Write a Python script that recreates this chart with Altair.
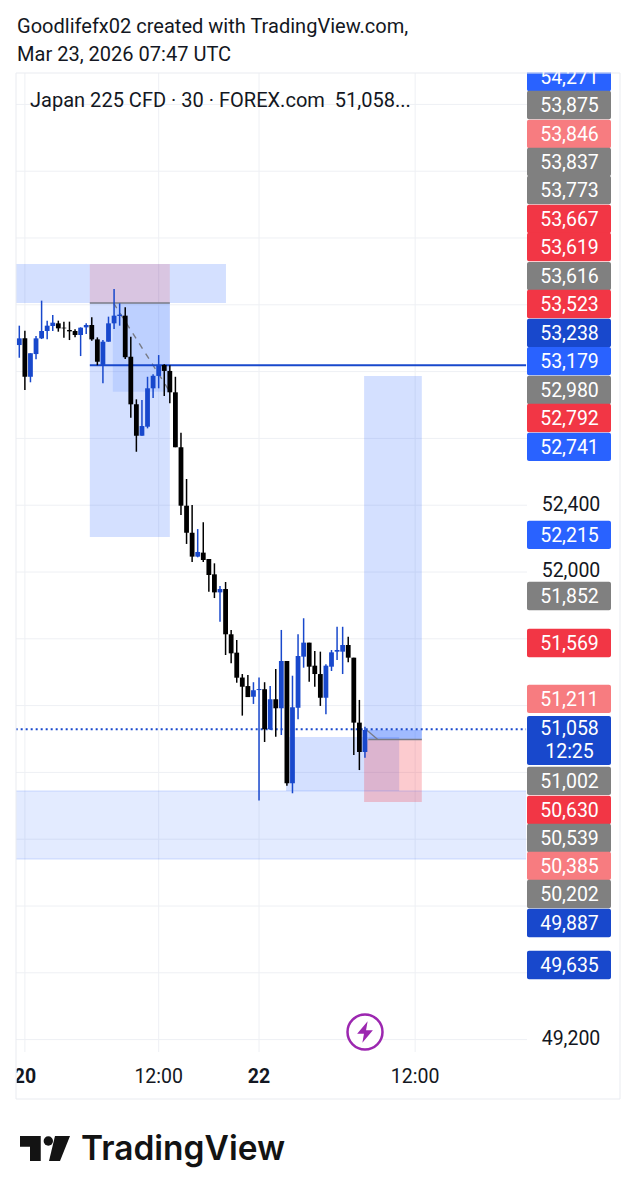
import altair as alt
import pandas as pd

# --- candles (30 min bars) ---
opens = [53359,53399,53169,53305,53399,53443,53473,53489,53463,53449,53443,53419,53465,53479,53393,53240,53379,53489,53533,53535,53289,53004,52816,52870,53100,53174,53240,53204,53076,52747,52397,52235,52092,52116,52078,51986,51878,51898,51627,51517,51368,51317,51253,51293,51298,51058,51238,51184,51467,50735,51187,51493,51577,51439,51389,51247,51433,51523,51523,51563,51487,51098,50922]
highs = [53475,53445,53310,53413,53625,53505,53539,53505,53499,53499,53453,53465,53489,53525,53405,53389,53529,53695,53609,53585,53409,53034,53030,53169,53184,53299,53244,53238,53169,52834,52557,52401,52257,52298,52078,52052,51916,51940,51653,51593,51389,51383,51340,51369,51340,51317,51419,51653,51467,51379,51627,51723,51577,51527,51523,51447,51533,51672,51672,51613,51487,51234,51074]
lows = [53283,53090,53136,53274,53395,53393,53443,53439,53403,53389,53405,53293,53425,53385,53238,53130,53379,53455,53475,53275,52924,52720,52816,52860,53042,53100,53054,53010,52747,52341,52168,52060,52088,52060,51882,51844,51702,51503,51453,51337,51140,51253,51210,50631,50982,51054,51014,51024,50720,50675,51118,51427,51343,51313,51198,51148,51407,51473,51389,51459,50904,50814,50888]
closes = [53399,53169,53310,53399,53443,53475,53493,53459,53459,53441,53419,53463,53479,53393,53259,53379,53489,53535,53541,53286,53004,52816,52874,53100,53175,53240,53204,53076,52747,52397,52235,52092,52120,52072,51982,51878,51898,51627,51513,51367,51313,51251,51292,51299,51058,51238,51184,51467,50735,51190,51497,51577,51433,51389,51247,51439,51519,51533,51563,51487,51098,50922,51054]

# --- price tags on the right-hand scale ---
tag_labels = ["54,271","53,875","53,846","53,837","53,773","53,667","53,619","53,616","53,523","53,238","53,179","52,980","52,792","52,741","52,215","51,852","51,569","51,211","51,002","50,630","50,539","50,385","50,202","49,887","49,635"]
tag_levels = [54964,54796,54623,54455,54287,54114,53946,53772,53605,53431,53263,53090,52922,52749,52222,51856,51575,51240,50749,50575,50407,50240,50072,49898,49647]
tag_kinds = ["bright","grey","salmon","grey","grey","red","red","grey","red","dark","bright","grey","red","bright","bright","grey","red","salmon","grey","red","grey","salmon","grey","dark","dark"]
plain_labels = ["52,400","52,000","49,200"]
plain_levels = [52407,52012,49210]
grid_prices = [54800,54400,54000,53600,53200,52800,52400,52000,51600,51200,50800,50400,50000,49600,49200]
grid_bars = [1,25,43,71]
date_bars = [1,43]
date_labels = ["20","22"]
hour_bars = [25,71]
hour_labels = ["12:00","12:00"]

# --- drawn zones: bar range, price range ---
zone_from = [-0.65,-0.65,12.65,16.78,61.85,62.6,47.85,61.85,12.65]
zone_to = [90.9,37.07,27.0,27.0,72.2,72.2,68.14,72.2,27.0]
zone_top = [50689,53844,53611,53611,53174,51054,51012,50997,53844]
zone_bottom = [50281,53611,52210,53080,50997,50997,50689,50623,53611]
zone_kind = ["pale","blue","blue","pale","blue","deep","blue","pink","rose"]

PX = 5.988        # price units per pixel
Y_TOP = 52000 + 564 * PX
Y_BOTTOM = 52000 - 620 * PX
X_LEFT = (8 - 19.3) / 5.575
X_RIGHT = (628 - 19.3) / 5.575
BLUE = "#1848cc"
GREY = "#787b86"

xs = alt.Scale(domain=[X_LEFT, X_RIGHT], nice=False, zero=False, padding=0)
ys = alt.Scale(domain=[Y_BOTTOM, Y_TOP], nice=False, zero=False)
def X(f): return alt.X(f, type="quantitative", scale=xs, axis=None)
def Y(f): return alt.Y(f, type="quantitative", scale=ys, axis=None)

candles = pd.DataFrame({"i": range(len(opens)), "o": opens, "h": highs, "l": lows, "c": closes})
candles["dir"] = ["up" if c >= o else "down" for o, c in zip(opens, closes)]
dir_color = alt.Color("dir:N", scale=alt.Scale(domain=["up", "down"], range=[BLUE, "#000000"]), legend=None)

wicks = alt.Chart(candles).mark_rule(strokeWidth=1.5).encode(x=X("i"), y=Y("l"), y2="h:Q", color=dir_color)
bodies = alt.Chart(candles).mark_bar(size=4.8).encode(x=X("i"), y=Y("o"), y2="c:Q", color=dir_color)

grid_h = alt.Chart(pd.DataFrame({"p": grid_prices})).mark_rule(color="#eef0f4", strokeWidth=1).encode(
    y=Y("p"), x=alt.value(8), x2=alt.value(519))
grid_v = alt.Chart(pd.DataFrame({"i": grid_bars})).mark_rule(color="#eef0f4", strokeWidth=1).encode(
    x=X("i"), y=alt.value(65), y2=alt.value(1044))

zones_df = pd.DataFrame({"a": zone_from, "b": zone_to, "t": zone_top, "u": zone_bottom, "k": zone_kind, "ord": range(len(zone_kind))})
zones = alt.Chart(zones_df).mark_rect().encode(
    x=X("a"), x2="b:Q", y=Y("t"), y2="u:Q",
    color=alt.Color("k:N", legend=None, scale=alt.Scale(
        domain=["pale", "blue", "deep", "pink", "rose"],
        range=["rgba(41,98,255,0.13)", "rgba(41,98,255,0.2)", "rgba(41,98,255,0.3)", "rgba(242,54,69,0.26)", "rgba(242,54,69,0.16)"])),
    order="ord:Q")

def seg(a, b, p, q, **kw):
    d = pd.DataFrame({"a": [a], "b": [b], "p": [p], "q": [q]})
    return alt.Chart(d).mark_rule(**kw).encode(x=X("a"), x2="b:Q", y=Y("p"), y2="q:Q")

band_top = seg(-0.65, 90.9, 50689, 50689, color="rgba(41,98,255,0.2)", strokeWidth=1)
band_bot = seg(-0.65, 90.9, 50281, 50281, color="rgba(41,98,255,0.2)", strokeWidth=1)
blue_line = seg(12.65, 90.9, 53238, 53238, color=BLUE, strokeWidth=1.9)
last_line = seg(-0.65, 90.9, 51058, 51058, color=BLUE, strokeWidth=2, strokeDash=[2, 3])
grey_a = seg(12.65, 27.0, 53611, 53611, color=GREY, strokeWidth=1.5)
grey_b = seg(62.6, 72.2, 50997, 50997, color=GREY, strokeWidth=1.5)
dash_a = seg(16.9, 27.0, 53611, 53080, color=GREY, strokeWidth=1.4, strokeDash=[6, 6])
dash_b = seg(62.3, 64.3, 51054, 50997, color=GREY, strokeWidth=1.3)

TH = 85
tags_df = pd.DataFrame({"lab": tag_labels, "lv": tag_levels, "k": tag_kinds})
tags_df["t"] = tags_df["lv"] + TH
tags_df["u"] = tags_df["lv"] - TH
tag_color = alt.Color("k:N", legend=None, scale=alt.Scale(
    domain=["bright", "grey", "salmon", "red", "dark"],
    range=["#2962ff", "#808080", "#f77c80", "#f23645", BLUE]))
tag_rects = alt.Chart(tags_df).mark_rect(cornerRadius=2).encode(
    x=alt.value(519), x2=alt.value(603), y=Y("t"), y2="u:Q", color=tag_color)
tag_text = alt.Chart(tags_df).mark_text(font="Roboto", fontSize=19.5, dy=1, color="white", align="center", baseline="middle").encode(
    x=alt.value(561.5), y=Y("lv"), text="lab:N")
cur_rect = alt.Chart(pd.DataFrame({"t": [51138], "u": [50844]})).mark_rect(cornerRadius=2, color=BLUE).encode(
    x=alt.value(519), x2=alt.value(603), y=Y("t"), y2="u:Q")
cur_text = alt.Chart(pd.DataFrame({"lv": [51066, 50928], "lab": ["51,058", "12:25"]})).mark_text(
    font="Roboto", fontSize=19.5, dy=1, color="white", align="center", baseline="middle").encode(
    x=alt.value(561.5), y=Y("lv"), text="lab:N")
plain_text = alt.Chart(pd.DataFrame({"lv": plain_levels, "lab": plain_labels})).mark_text(
    font="Roboto", fontSize=19.5, dy=1, color="#131722", align="center", baseline="middle").encode(
    x=alt.value(563), y=Y("lv"), text="lab:N")

date_text = alt.Chart(pd.DataFrame({"i": date_bars, "lab": date_labels})).mark_text(
    font="Roboto", fontSize=19.5, fontWeight="bold", color="#131722", align="center", baseline="middle").encode(
    x=X("i"), y=alt.value(1069), text="lab:N")
hour_text = alt.Chart(pd.DataFrame({"i": hour_bars, "lab": hour_labels})).mark_text(
    font="Roboto", fontSize=19.5, color="#131722", align="center", baseline="middle").encode(
    x=X("i"), y=alt.value(1069), text="lab:N")

def cover(x0, x1, y0, y1):
    return alt.Chart(pd.DataFrame({"a": [0]})).mark_rect(color="white").encode(
        x=alt.value(x0), x2=alt.value(x1), y=alt.value(y0), y2=alt.value(y1))

def frame(x0, x1, y0, y1):
    return alt.Chart(pd.DataFrame({"a": [0]})).mark_rule(color="#e9ebf0", strokeWidth=1).encode(
        x=alt.value(x0), x2=alt.value(x1), y=alt.value(y0), y2=alt.value(y1))

def label(t, px, py, **kw):
    return alt.Chart(pd.DataFrame({"t": [t]})).mark_text(baseline="middle", **kw).encode(
        x=alt.value(px - 8), y=alt.value(py - 8), text="t:N")

def glyph(px, py, **kw):
    return alt.Chart(pd.DataFrame({"a": [0]})).mark_point(**kw).encode(x=alt.value(px - 8), y=alt.value(py - 8))

LOGO_T = "M-1 -.54 L-.17 -.54 L-.17 .46 L-.6 .46 L-.6 -.11 L-1 -.11 Z"
LOGO_S = "M.4 -.54 L1 -.54 L.6 .46 L.16 .46 Z"
BOLT = "M.15 -.62 L-.45 .1 L-.06 .1 L-.15 .62 L.45 -.1 L.06 -.1 Z"
PURPLE = "#9c27b0"

chart = alt.layer(
    grid_h, grid_v, zones, band_top, band_bot, grey_a, grey_b, dash_a, dash_b, blue_line, last_line,
    wicks, bodies, tag_rects, cur_rect, tag_text, cur_text, plain_text,
    cover(0, 620, 0, 64.5), cover(0, 8, 0, 1184),
    date_text, hour_text, cover(0, 8.5, 1050, 1090),
    frame(8, 8, 65, 1091), frame(612, 612, 65, 1091), frame(8, 612, 1091, 1091), frame(8, 612, 65, 65),
    glyph(365, 1032, shape="circle", filled=True, fill="white", stroke=PURPLE, strokeWidth=2.5, size=1225, opacity=1),
    glyph(365, 1032, shape=BOLT, filled=True, color=PURPLE, size=1225, opacity=1),
    label("Goodlifefx02 created with TradingView.com,", 17, 27, font="Roboto", fontSize=20.05, color="#131722", align="left"),
    label("Mar 23, 2026 07:47 UTC", 17, 55, font="Roboto", fontSize=20.05, color="#131722", align="left"),
    label("Japan 225 CFD · 30 · FOREX.com\u00a0\u00a051,058...", 30, 100.5, font="Roboto", fontSize=20.05, color="#131722", align="left"),
    glyph(45, 1149.5, shape=LOGO_T, filled=True, color="#131313", size=2500, opacity=1),
    glyph(45, 1149.5, shape=LOGO_S, filled=True, color="#131313", size=2500, opacity=1),
    glyph(48.3, 1141, shape="circle", filled=True, color="#131313", size=88, opacity=1),
    label("TradingView", 81, 1150, font="Inter", fontSize=33.5, fontWeight=600, color="#131313", align="left"),
).properties(width=620, height=1184, padding=0, autosize=alt.AutoSizeParams(type="none")
).configure_view(stroke=None).resolve_scale(color="independent")

chart.save("out.html", embed_options={"renderer": "svg", "actions": False})
